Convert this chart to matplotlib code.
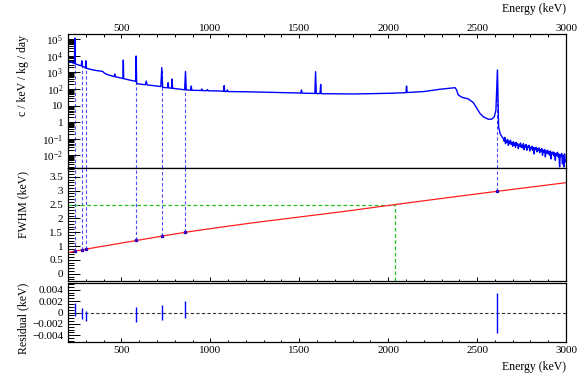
import numpy as np
import matplotlib
matplotlib.use('Agg')
import matplotlib.pyplot as plt
from matplotlib.ticker import MultipleLocator, FixedLocator, FixedFormatter, LogLocator, NullFormatter

plt.rcParams['font.family'] = 'Liberation Serif'
plt.rcParams['mathtext.fontset'] = 'custom'
plt.rcParams['mathtext.rm'] = 'Liberation Serif'
plt.rcParams['mathtext.it'] = 'Liberation Serif:italic'

# spectrum (keV, c/keV/kg/day)
spec_E = [200, 215, 230, 236, 238.6, 241, 260, 275, 277.4, 280, 298, 300.1, 302,
          330, 360, 395, 405, 420, 450, 460, 463, 466, 480, 505, 509, 511, 513,
          550, 575, 581, 583.2, 586, 610, 635, 640, 645, 670, 700, 722, 727.3, 732,
          760, 763, 766, 782, 785, 788, 820, 856, 860.6, 865, 890, 893, 896,
          949, 952, 955, 980, 984, 988, 1050, 1075, 1078, 1081, 1093, 1096, 1099,
          1200, 1300, 1400, 1509, 1512.7, 1516, 1588, 1592, 1596, 1617, 1620.7, 1624,
          1700, 1800, 1900, 2000, 2100, 2103.5, 2107, 2200, 2291, 2376, 2385, 2394,
          2413, 2451, 2479, 2498, 2516, 2535, 2563, 2582, 2597, 2606, 2614.5, 2621,
          2629, 2640]
spec_c = [5000, 4300, 3600, 3400, 120000, 3300, 2800, 2500, 5000, 2400, 1900, 5000, 1800,
          1500, 1300, 1150, 900, 750, 600, 560, 800, 550, 510, 440, 430, 5600, 420,
          340, 300, 290, 9800, 210, 195, 180, 300, 175, 165, 150, 140, 1950, 125,
          118, 240, 116, 112, 400, 110, 100, 90, 1130, 88, 85, 150, 84,
          81, 100, 80, 79, 92, 78, 76, 72, 158, 71, 70, 88, 70,
          68, 64, 61, 57, 87, 56, 54, 1100, 53, 53, 190, 52,
          51, 50, 52, 55, 60, 150, 61, 70, 96, 120, 87, 44,
          32, 25, 15, 6.9, 3.4, 2.1, 1.5, 1.5, 2.1, 5.4, 1400, 0.54,
          0.21, 0.13]

# noisy tail above the 2614 keV line, 4 keV bins
tail_E = np.arange(2648, 3000, 4)
tail_c = [0.10, 0.07, 0.12, 0.05, 0.08, 0.06, 0.09, 0.04, 0.07, 0.05, 0.08, 0.045, 0.06,
          0.035, 0.065, 0.04, 0.055, 0.03, 0.06, 0.04, 0.05, 0.025, 0.045, 0.035, 0.055, 0.03,
          0.04, 0.028, 0.05, 0.022, 0.04, 0.03, 0.045, 0.02, 0.035, 0.03, 0.04, 0.018, 0.03,
          0.025, 0.035, 0.02, 0.03, 0.012, 0.028, 0.022, 0.03, 0.016, 0.025, 0.02, 0.028, 0.014,
          0.022, 0.017, 0.025, 0.01, 0.02, 0.015, 0.022, 0.008, 0.018, 0.014, 0.02, 0.012, 0.017,
          0.01, 0.018, 0.006, 0.015, 0.012, 0.016, 0.009, 0.014, 0.005, 0.013, 0.01, 0.015, 0.008,
          0.012, 0.002, 0.011, 0.009, 0.013, 0.003, 0.01, 0.002, 0.012, 0.004]

# calibration lines
cal_E = [238.6, 277.4, 300.1, 583.2, 727.3, 860.6, 2614.5]
cal_fwhm = [0.83, 0.87, 0.90, 1.22, 1.37, 1.52, 3.00]
cal_res = [0.0005, -0.0002, -0.00066, -0.0004, 0.00005, 0.0005, -0.0001]
cal_res_err = [0.0012, 0.00095, 0.0009, 0.0013, 0.00136, 0.0015, 0.0035]

# FWHM fit curve
fit_E = [200, 238.6, 277.4, 300.1, 400, 583.2, 727.3, 860.6, 1000, 1250, 1500, 1750,
         2039, 2300, 2614.5, 3000]
fit_fwhm = [0.76, 0.82, 0.86, 0.89, 1.0, 1.2, 1.36, 1.50, 1.63, 1.85, 2.05, 2.25,
            2.50, 2.72, 2.98, 3.29]

qbb = 2039
qbb_fwhm = 2.5

fig = plt.figure(figsize=(5.81, 3.79), dpi=100)
W, H = 581, 379
ax1 = fig.add_axes([68 / W, 1 - 168 / H, 498 / W, 134 / H])
ax2 = fig.add_axes([68 / W, 1 - 281 / H, 498 / W, 113 / H])
ax3 = fig.add_axes([68 / W, 1 - 342 / H, 498 / W, 59 / H])

blue = '#0000ff'
dblue = '#4d4dff'
green = '#22c022'

# top: spectrum
ax1.set_yscale('log')
ylo1, yhi1 = 10 ** -2.77, 10 ** 5.32
ax1.set_ylim(ylo1, yhi1)
peak_c = [spec_c[spec_E.index(e)] for e in cal_E]
ax1.vlines(cal_E, ylo1, peak_c, colors=dblue, linestyles=(0, (3, 2)), lw=0.8, zorder=1)
ax1.plot(list(spec_E) + list(tail_E), spec_c + tail_c, color=blue, lw=1.0, zorder=2)
dec = [-2, -1, 0, 1, 2, 3, 4, 5]
dec_lbl = ['$10^{-2}$', '$10^{-1}$', '1', '10', '$10^{2}$', '$10^{3}$', '$10^{4}$', '$10^{5}$']
ax1.yaxis.set_major_locator(FixedLocator([10.0 ** d for d in dec]))
ax1.yaxis.set_major_formatter(FixedFormatter(dec_lbl))
ax1.yaxis.set_minor_locator(LogLocator(base=10, subs=np.arange(2, 10), numticks=50))
ax1.yaxis.set_minor_formatter(NullFormatter())

# middle: FWHM
ylo2, yhi2 = -0.26, 3.82
ax2.set_ylim(ylo2, yhi2)
ax2.vlines(cal_E, cal_fwhm, yhi2, colors=dblue, linestyles=(0, (3, 2)), lw=0.8, zorder=1)
ax2.hlines(qbb_fwhm, 200, qbb, colors=green, linestyles=(0, (3, 2)), lw=0.9)
ax2.vlines(qbb, ylo2, qbb_fwhm, colors=green, linestyles=(0, (3, 2)), lw=0.9)
ax2.plot(fit_E, fit_fwhm, color='#ff2020', lw=0.9, zorder=2)
ax2.plot(cal_E, cal_fwhm, 's', color='#3300bb', ms=2, zorder=3)
ax2.yaxis.set_major_locator(MultipleLocator(0.5))
ax2.yaxis.set_minor_locator(MultipleLocator(0.1))
ax2.yaxis.set_major_formatter(lambda v, p: f'{v:g}')

# bottom: residuals
ax3.set_ylim(-0.0052, 0.0052)
ax3.axhline(0, color='#333333', ls=(0, (3, 2)), lw=0.8)
ax3.errorbar(cal_E, cal_res, yerr=cal_res_err, fmt='none', ecolor=blue, elinewidth=1.0)
res_ticks = [-0.004, -0.002, 0, 0.002, 0.004]
ax3.yaxis.set_major_locator(FixedLocator(res_ticks))
ax3.yaxis.set_major_formatter(FixedFormatter(['\u22120.004', '\u22120.002', '0', '0.002', '0.004']))
ax3.yaxis.set_minor_locator(MultipleLocator(0.0005))

for ax in (ax1, ax2, ax3):
    ax.set_xlim(200, 3000)
    ax.xaxis.set_major_locator(MultipleLocator(500))
    ax.xaxis.set_minor_locator(MultipleLocator(100))
    ax.tick_params(axis='y', which='both', direction='in', left=True, right=False,
                   labelsize=8, pad=3.5, width=0.7)
    ax.tick_params(axis='y', which='major', length=8.6)
    ax.tick_params(axis='y', which='minor', length=4.3)
    ax.tick_params(axis='x', which='both', direction='in', labelsize=8, width=0.7)
    ax.tick_params(axis='x', which='major', length=3)
    ax.tick_params(axis='x', which='minor', length=1.8)
    for s in ax.spines.values():
        s.set_linewidth(0.9)

ax1.tick_params(axis='x', which='both', top=True, bottom=False, labeltop=True,
                labelbottom=False, pad=1)
ax2.tick_params(axis='x', which='both', top=False, bottom=True, labelbottom=False)
ax3.tick_params(axis='x', which='both', top=False, bottom=True, labelbottom=True, pad=3)

fig.text(566 / W, 1 - 9 / H, 'Energy (keV)', ha='right', va='center', fontsize=8.5)
fig.text(566 / W, 1 - 367 / H, 'Energy (keV)', ha='right', va='center', fontsize=8.5)
fig.text(23 / W, 1 - 35 / H, 'c / keV / kg / day', rotation=90, ha='center', va='top', fontsize=8.5)
fig.text(23 / W, 1 - 171 / H, 'FWHM (keV)', rotation=90, ha='center', va='top', fontsize=8.5)
fig.text(23 / W, 1 - 283 / H, 'Residual (keV)', rotation=90, ha='center', va='top', fontsize=8.5)

fig.savefig('out.png', dpi=100)
